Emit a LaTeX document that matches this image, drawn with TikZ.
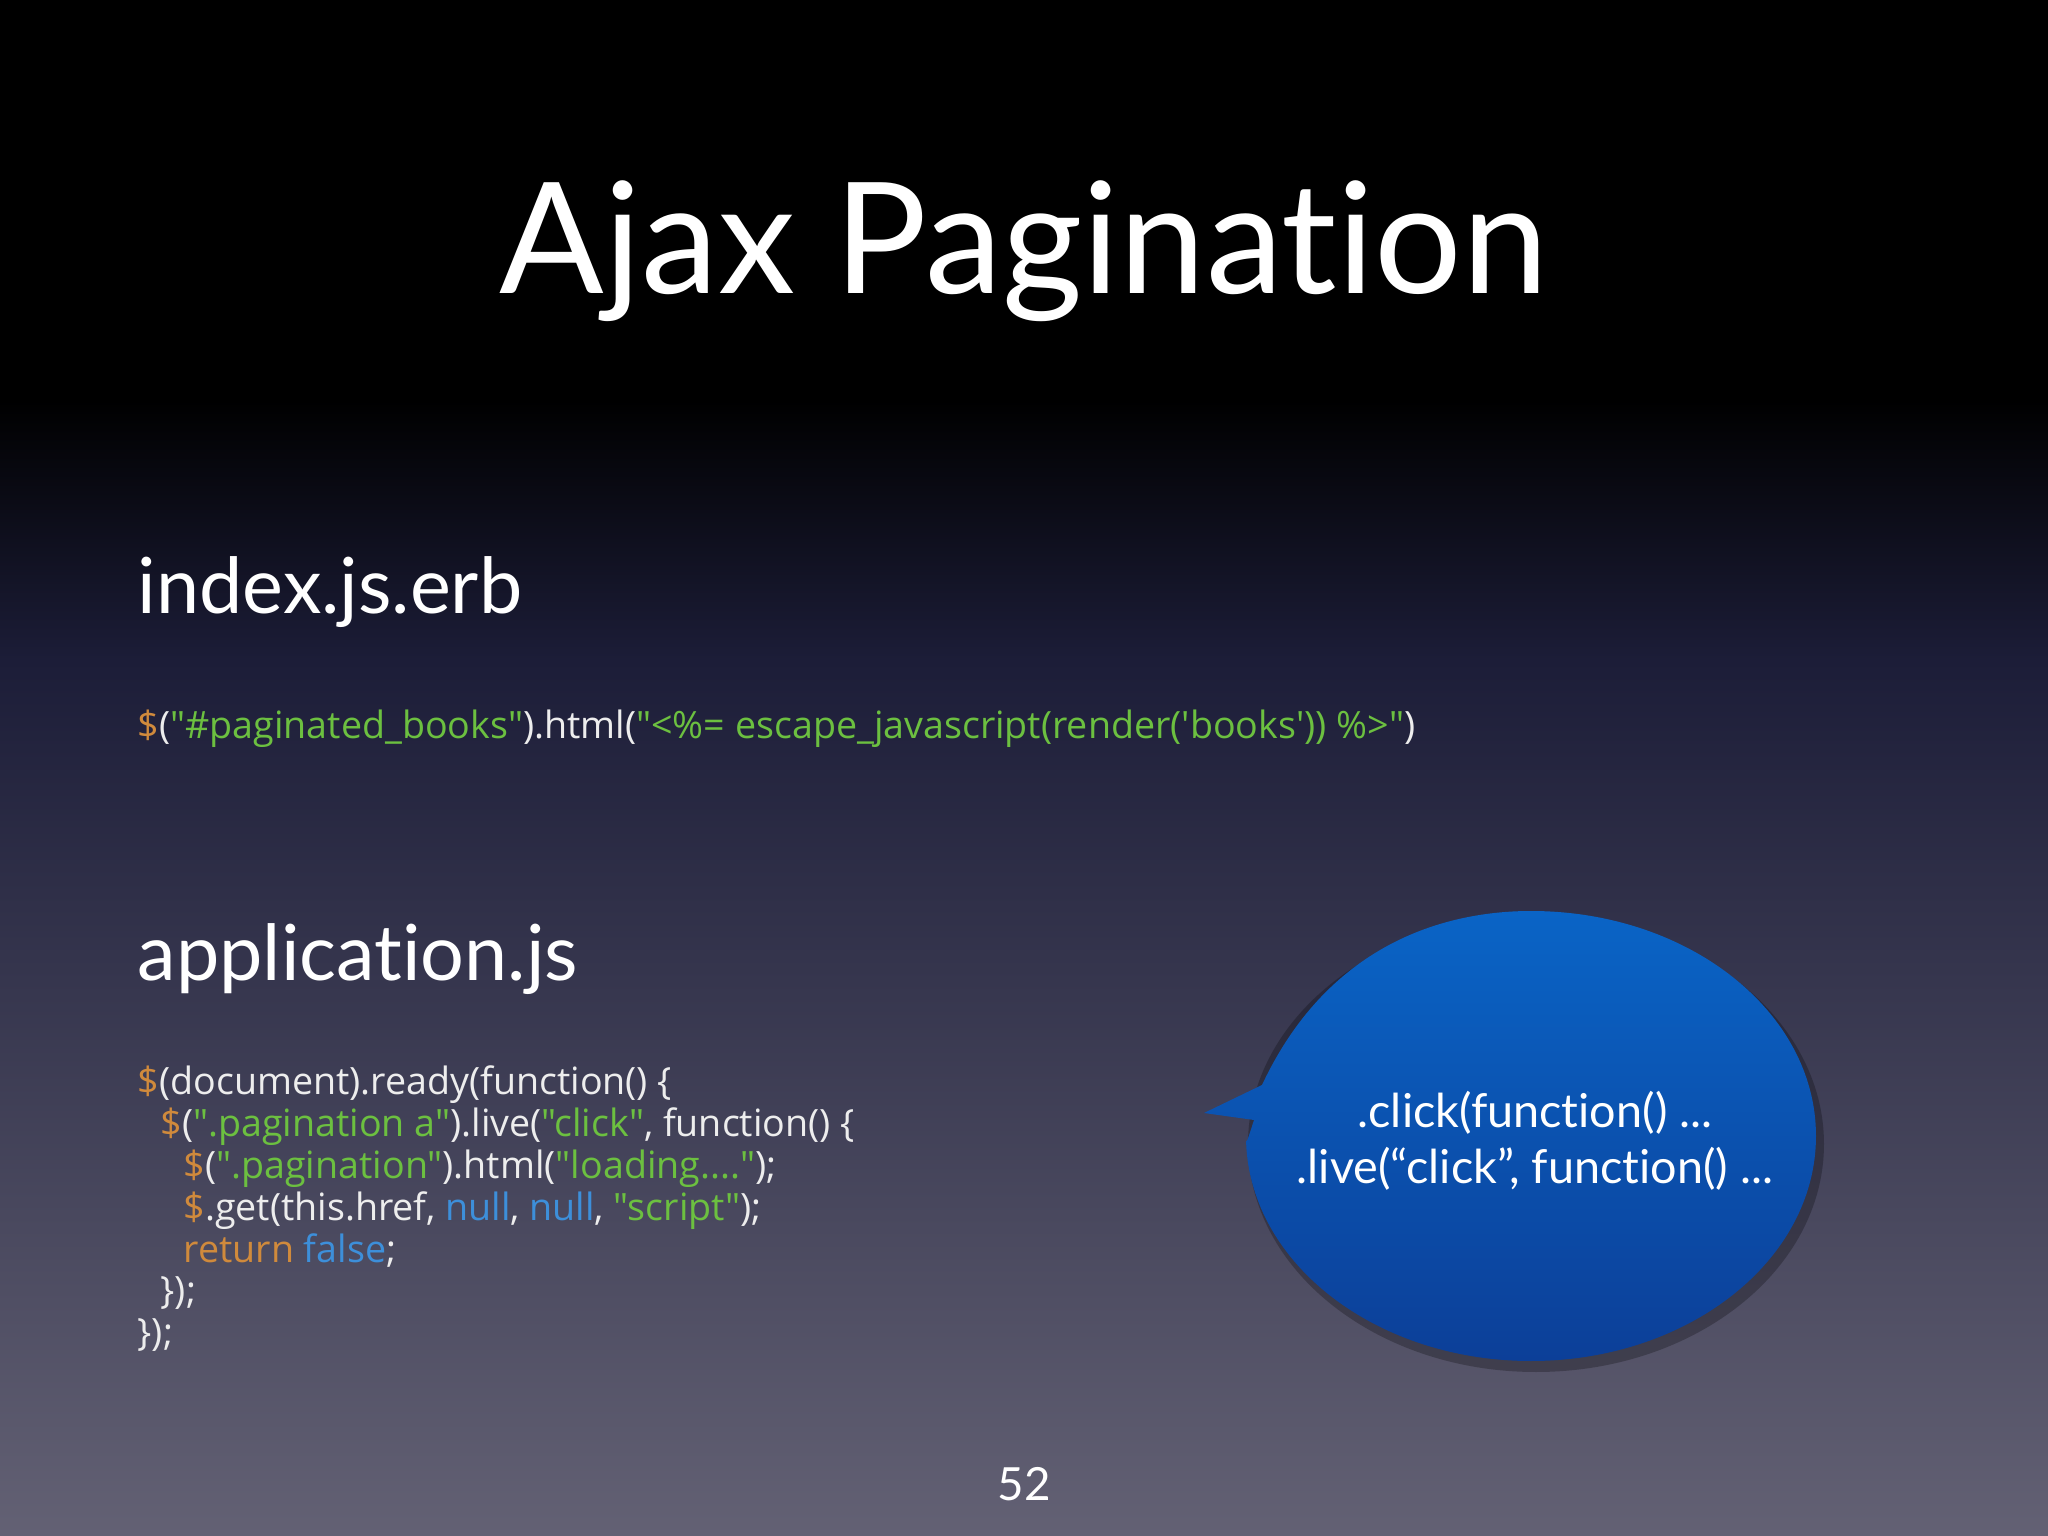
\documentclass[tikz,border=0pt]{standalone}
\usepackage{fontspec}
\setmainfont{Lato}[Ligatures={NoCommon,NoRare,NoDiscretionary}]
\newfontfamily\codef{Open Sans}
\usetikzlibrary{shadows}
\definecolor{bgbot}{HTML}{636174}
\definecolor{bgmid}{HTML}{1c1d38}
\definecolor{corange}{HTML}{D08A3C}
\definecolor{cgreen}{HTML}{6CC040}
\definecolor{cblue}{HTML}{3D8FDA}
\definecolor{ctext}{HTML}{EDEDED}
\definecolor{bubtop}{HTML}{0A64C6}
\definecolor{bubbot}{HTML}{0C3F98}
\newcommand{\dol}{\textcolor{corange}{\$}}
\newcommand{\gr}[1]{\textcolor{cgreen}{#1}}
\newcommand{\bl}[1]{\textcolor{cblue}{#1}}
\newcommand{\orr}[1]{\textcolor{corange}{#1}}
\tikzset{
 head/.style={anchor=base west,text=white,font=\fontsize{22}{26}\selectfont,inner sep=0},
 code/.style={anchor=base west,text=ctext,font=\codef\fontsize{10.7}{13}\selectfont,inner sep=0},
 btext/.style={anchor=base,text=white,font=\fontsize{13.3}{16}\selectfont,inner sep=0}
}
\begin{document}
\begin{tikzpicture}[x=1cm,y=1cm]
\useasboundingbox (0,0) rectangle (20.48,-15.36);
\fill[black] (0,0) rectangle (20.48,-4);
\shade[top color=black,bottom color=bgmid] (0,-4) rectangle (20.48,-6.6);
\shade[top color=bgmid,bottom color=bgbot] (0,-6.6) rectangle (20.48,-15.36);
\node[anchor=base,text=white,font=\fontsize{44}{50}\selectfont,inner sep=0] (title) at (10.24,-2.94) {Ajax Pagination};
\node[head] (h1) at (1.37,-6.14) {index.js.erb};
\node[code] (c0) at (1.37,-7.38) {\dol(\gr{"\#paginated\_books"}).html(\gr{"<\%= escape\_javascript(render('books')) \%>"})};
\node[head] (h2) at (1.37,-9.80) {application.js};
\node[code] (l1) at (1.37,-10.94) {\dol(document).ready(function() \{};
\node[code] (l2) at (1.37,-11.36) {\hspace{0.23cm}\dol(\gr{".pagination a"}).live(\gr{"click"}, function() \{};
\node[code] (l3) at (1.37,-11.78) {\hspace{0.46cm}\dol(\gr{".pagination"}).html(\gr{"loading...."});};
\node[code] (l4) at (1.37,-12.20) {\hspace{0.46cm}\dol.get(this.href, \bl{null}, \bl{null}, \gr{"script"});};
\node[code] (l5) at (1.37,-12.62) {\hspace{0.46cm}\orr{return} \bl{false};};
\node[code] (l6) at (1.37,-13.03) {\hspace{0.23cm}\});};
\node[code] (l7) at (1.37,-13.45) {\});};
\fill[black,opacity=0.25] (15.36,-11.44) ellipse[x radius=2.88,y radius=2.28];
\shade[top color=bubtop,bottom color=bubbot]
  (12.04,-11.13) -- (12.62,-10.85) .. controls (13.3,-9.4) and (14.5,-9.11) .. (15.31,-9.11)
  arc[start angle=90,end angle=-180,x radius=2.85,y radius=2.25]
  .. controls (12.46,-11.45) .. (12.54,-11.2) -- cycle;
\node[btext] (b1) at (15.35,-11.27) {.click(function() ...};
\node[btext] (b2) at (15.35,-11.83) {.live(“click”, function() ...};
\node[anchor=base,text=white,font=\fontsize{13}{16}\selectfont,inner sep=0] (pg) at (10.24,-15.0) {52};
\end{tikzpicture}
\end{document}
